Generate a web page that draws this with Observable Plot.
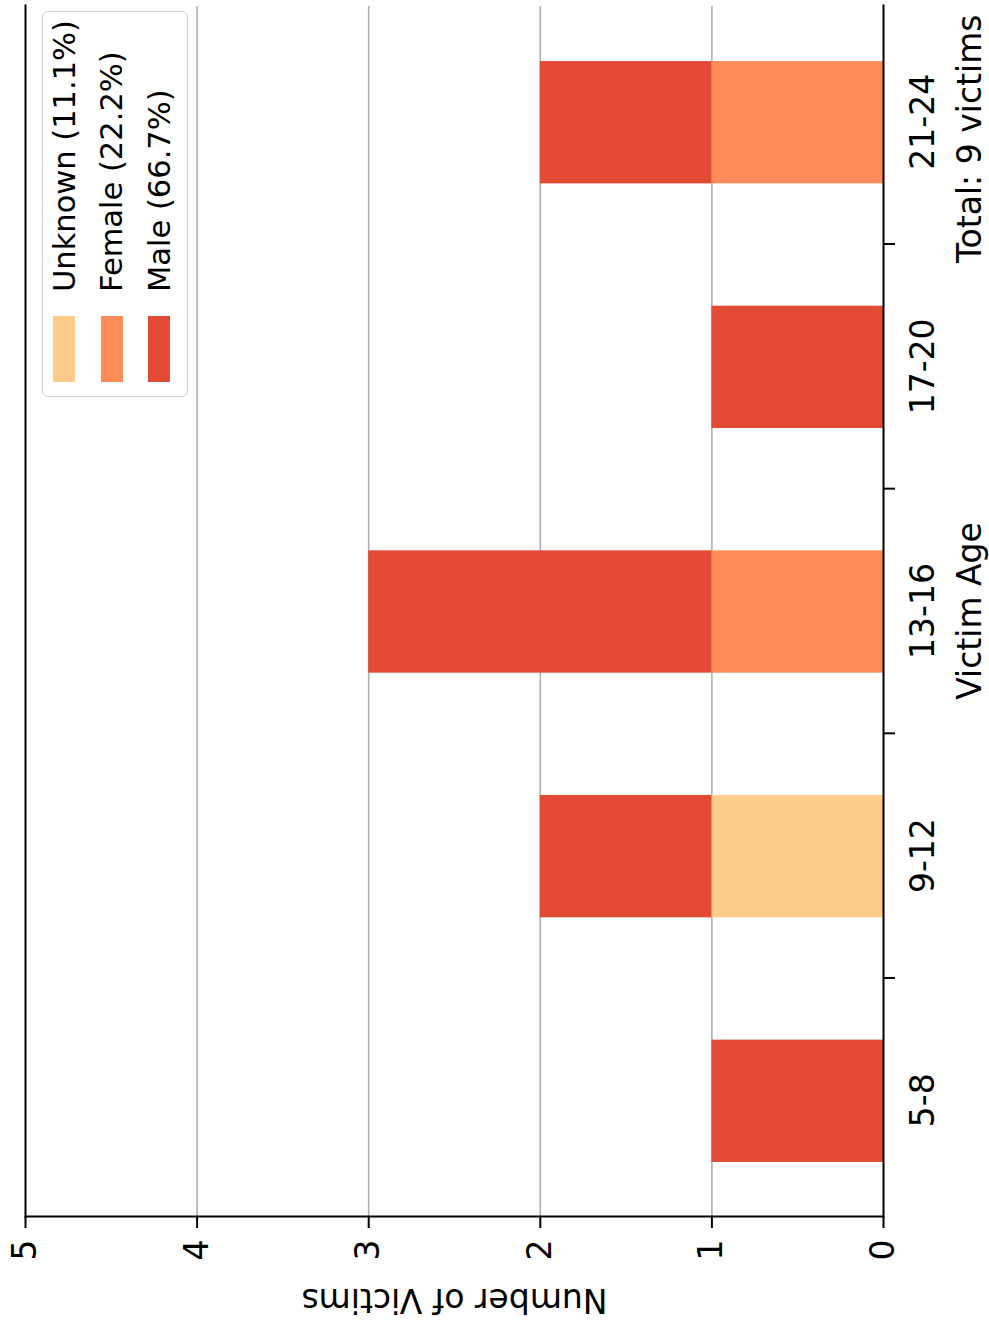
<!DOCTYPE html>
<html><head><meta charset="utf-8">
<script src="https://cdn.jsdelivr.net/npm/d3@7"></script>
<script src="https://cdn.jsdelivr.net/npm/@observablehq/plot@0.6"></script>
<style>
html,body{margin:0;padding:0;background:#fff;overflow:hidden;}
#page{width:989px;height:1327px;position:relative;overflow:hidden;background:#fff;}
#rot{position:absolute;left:0;top:1327px;width:1327px;height:989px;transform-origin:0 0;transform:rotate(-90deg);font-family:"DejaVu Sans",sans-serif;}
#chart{position:absolute;left:0;top:0;}
#legend{position:absolute;left:930px;top:42px;width:386px;height:146px;box-sizing:border-box;border:1.5px solid #d0d0d0;border-radius:6px;background:rgba(255,255,255,0.85);}
.row{position:absolute;left:0;height:48px;display:flex;align-items:center;}
.sw{width:66px;height:22px;margin-left:14px;margin-right:24px;flex:none;}
.lt{font-size:30.5px;color:#000;white-space:nowrap;font-family:"DejaVu Sans",sans-serif;}
</style></head><body>
<div id="page"><div id="rot"><div id="chart"></div><div id="legend"></div></div></div>
<script>
const ageGroups = ["5-8", "9-12", "13-16", "17-20", "21-24"];
const maleCounts = [1, 1, 2, 1, 1];
const femaleCounts = [0, 0, 1, 0, 1];
const unknownCounts = [0, 1, 0, 0, 0];
const yTicks = [0, 1, 2, 3, 4, 5];
const xLabel = "Victim Age";
const yLabel = "Number of Victims";
const totalLabel = "Total: 9 victims";

// stacking order bottom -> top
const series = [
  {name: "Unknown", values: unknownCounts, color: "#fdcc8a"},
  {name: "Female", values: femaleCounts, color: "#fc8d59"},
  {name: "Male", values: maleCounts, color: "#e34a33"}
];

const rows = [];
ageGroups.forEach((g, i) => {
  let base = 0;
  for (const s of series) {
    const v = s.values[i];
    if (v > 0) { rows.push({i, y1: base, y2: base + v, sex: s.name}); base += v; }
  }
});
const idx = ageGroups.map((_, i) => i);
const bounds = idx.slice(0, -1).map(i => i + 0.5);
const FS = 33;

const chart = Plot.plot({
  width: 1327, height: 989,
  marginLeft: 110, marginRight: 6, marginTop: 25, marginBottom: 106,
  style: {fontFamily: "DejaVu Sans, sans-serif", fontSize: FS + "px", color: "#000", background: "#fff", overflow: "visible"},
  x: {type: "linear", domain: [-0.475, 4.475]},
  y: {domain: [0, 5]},
  color: {domain: series.map(s => s.name), range: series.map(s => s.color)},
  marks: [
    Plot.gridY(yTicks.slice(1, -1), {stroke: "#b0b0b0", strokeOpacity: 1, strokeWidth: 1.6}),
    Plot.rectY(rows, {x1: d => d.i - 0.25, x2: d => d.i + 0.25, y1: "y1", y2: "y2", fill: "sex"}),
    Plot.frame({anchor: "left", stroke: "#000", strokeWidth: 2}),
    Plot.frame({anchor: "top", stroke: "#000", strokeWidth: 2}),
    Plot.frame({anchor: "bottom", stroke: "#000", strokeWidth: 2}),
    Plot.axisY(yTicks, {tickSize: 11, tickPadding: 12, tickFormat: "d", fontSize: FS, label: null, strokeWidth: 2}),
    Plot.axisX(idx, {tickSize: 0, tickPadding: 27, tickFormat: i => ageGroups[i], fontSize: FS, label: null}),
    Plot.axisX(bounds, {tickSize: 12, tickFormat: () => "", label: null, strokeWidth: 2}),
    Plot.text([yLabel], {frameAnchor: "left", dx: -83, rotate: -90, textAnchor: "middle", lineAnchor: "middle", fontSize: FS}),
    Plot.text([xLabel], {frameAnchor: "bottom", dy: 87, textAnchor: "middle", lineAnchor: "middle", fontSize: FS}),
    Plot.text([totalLabel], {frameAnchor: "bottom-right", dx: -9, dy: 87, textAnchor: "end", lineAnchor: "middle", fontSize: FS})
  ]
});
document.getElementById("chart").appendChild(chart);

// legend: Unknown, Female, Male (top to bottom)
const total = d3.sum(series, s => d3.sum(s.values));
const legend = document.getElementById("legend");
series.forEach((s, k) => {
  const pct = (100 * d3.sum(s.values) / total).toFixed(1);
  const row = document.createElement("div");
  row.className = "row";
  row.style.top = (-3 + k * 47.5) + "px";
  row.innerHTML = `<div class="sw" style="background:${s.color}"></div><div class="lt">${s.name} (${pct}%)</div>`;
  legend.appendChild(row);
});
</script>
</body></html>
